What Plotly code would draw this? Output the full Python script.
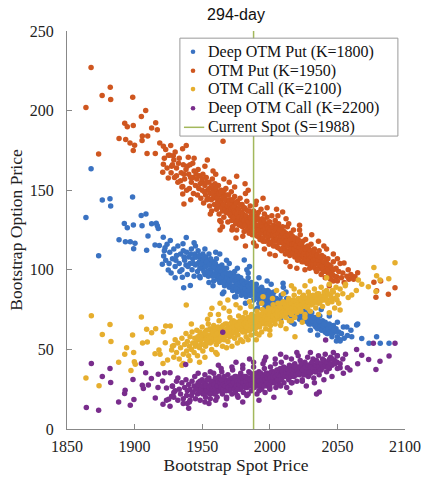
import plotly.graph_objects as go

TITLE = "294-day"
X_LABEL = "Bootstrap Spot Price"
Y_LABEL = "Bootstrap Option Price"
X_TICKS = [1850, 1900, 1950, 2000, 2050, 2100]
Y_TICKS = [0, 50, 100, 150, 200, 250]
SPOT = 1988
SERIES_NAMES = ["Deep OTM Put (K=1800)", "OTM Put (K=1950)", "OTM Call (K=2100)",
                "Deep OTM Call (K=2200)"]
SPOT_NAME = "Current Spot (S=1988)"

# ---- Deep OTM Put (K=1800) ----
BLUE_PTS = [
    (1864,132.9),(1873.4,108.8),(1876.1,143.8),(1881.8,144.6),(1882.3,140),(1898.5,145.7),(1867.8,163.5),
    (1888.5,118.8),(1893.2,117.6),(1892.4,129.1),(1894.6,126.4),(1896.8,117.6),(1899.1,128.1),(1899.3,113.2),
    (1900.3,116.7),(1904.9,134.1),(1908.4,135),(1905.5,127.6),(1908.9,112.3),(1909.9,121.2),(1912.6,128.9),
    (1916,129.3),(1916.8,127.6),(1917.5,126),(1915.1,115.5),(1921.2,120.5),(1918.3,115.3),(1922.5,113.8),
    (1926.4,118.4),(1920.5,103.5),(1924.9,99.9),(1921.5,108.6),(1935.3,95.3),(1936.3,88.8),(1941.2,90.1),
    (1938.2,120.3),(1935.8,116.3),(1981.1,106.2),(2009.8,91.5),(2068,56.9),(2073.4,53.8),(2079,57.9),
    (2081.7,53.8),(2088.2,53.8),(2064.2,65.3),(2065,66),(2060.6,57.9),(2057.4,58.7),(2054.4,64),(2052,55.2),
    (2049.3,55.2),(2045.3,62.2),(2041,60.8),(2035.4,59),
    (1922,112),(1923,106),(1924,116),(1925.5,104),(1926,111),(1927,98),(1928,107),(1929,113),(1930,102),
    (1931,109),(1932,115),(1933,104),(1934,110),(1935,100),(1936,112),(1937,106),(1938,103),(1938.5,111),
    (1939,97),(1940,108),(1941,104),(1942,113),(1942.5,100),(1943,107),(1944,96),(1944.5,110),(1945,103),
    (1946,108),(1946.5,99),(1947,112),(1948,105),(1948.5,95),(1949,107),(1950,101),(1950.5,110),(1951,104),
    (1952,97),(1952.5,108),(1953,102),(1954,106),(1954.5,96),(1955,110),(1956,100),(1956.5,104),(1957,98),
    (1958,105),(1958.5,93),(1959,101),(1960,97),(1960.5,107),(1961,95),(1962,102),(1962.5,99),(1963,92),
    (1964,97),(1964.5,103),(1965,94),(1966,99),(1966.5,90),(1967,96),(1968,101),(1968.5,92),(1969,95),
    (1970,89),(1970.5,98),(1971,93),(1972,96),(1972.5,87),(1973,94),(1974,99),(1974.5,90),(1975,92),
    (1976,86),(1976.5,96),(1977,91),(1978,88),(1978.5,95),(1979,84),(1980,90),(1980.5,93),(1981,87),
    (1982,92),(1982.5,83),(1983,89),(1984,95),(1984.5,86),(1985,90),(1986,84),(1986.5,92),(1987,87),
    (1988,81),(1988.5,89),(1989,86),(1990,91),(1990.5,83),(1991,88),(1992,79),(1992.5,86),(1993,84),
    (1994,89),(1994.5,80),(1995,86),(1996,82),(1996.5,77),(1997,85),(1998,81),(1998.5,87),(1999,78),
    (2000,83),(2000.5,80),(2001,84),(2002,77),(2002.5,81),(2003,86),(2004,79),(2004.5,75),(2005,82),
    (2006,77),(2006.5,80),(2007,74),(2008,79),(2008.5,84),(2009,76),(2010,80),(2010.5,73),(2011,78),
    (2012,75),(2012.5,82),(2013,77),(2014,73),(2015,79),(2016,71),(2017,76),(2018,74),(2019,78),(2020,72),
    (2021,75),(2022,69),(2023,77),(2024,73),(2025,70),(2026,74),(2027,68),(2028,72),(2029,66),(2030,71),
    (2031,73),(2032,67),(2033,70),(2034,64),(2035,69),(2036,66),(2037,71),(2038,65),(2039,68),(2040,62),
    (2041,67),(2042,64),(2043,60),(2044,66),(2045,62),(2046,58),(2047,65),(2048,61),(2049,63),(2050,58),
    (2051,61),(2052,56),(2053,60),(2055,57),
    (1930,95),(1945,115),(1955,92),(1963,110),(1970,104),(1975,83),(1983,100),(1990,75),(1998,93),
    (2005,70),(2010,89),(2018,66),(2025,82),(2030,62),(2038,75),(2044,71),(2050,67),(2057,64),(2060,62),
    (1985,102),(1965,85),(2000,73),
    (1930.5,106),(1933.5,99),(1936.5,108),(1939.5,102),(1941.5,110),(1943.5,104),
    (1945.25,108),(1946.75,104),(1947.75,109),(1948.25,101),(1949.25,104),(1950.75,106),(1951.25,99),
    (1951.75,108),(1953.25,105),(1953.75,99),(1955.25,103),(1955.75,98),(1956.25,107),(1957.25,101),
    (1957.75,96),(1958.75,102),(1959.25,97),(1959.75,104),(1960.75,99),(1961.25,94),(1961.75,100),
    (1962.25,96),(1963.25,101),(1963.75,95),(1964.25,99),(1965.25,92),(1965.75,97),(1966.25,101),
    (1967.25,93),(1967.75,98),(1968.25,95),(1969.25,91),(1969.75,97),(1970.25,93),(1971.25,97),
    (1971.75,90),(1972.25,94),(1973.25,89),(1973.75,96),(1974.25,93),(1975.25,88),(1975.75,94),
    (1976.25,91),(1977.25,95),(1977.75,87),(1978.25,92),(1979.25,89),(1979.75,93),(1980.25,86),
    (1981.25,91),(1981.75,88),(1982.25,85),(1983.25,92),(1983.75,87),(1984.25,90),(1985.25,84),
    (1985.75,88),(1986.25,91),(1987.25,85),(1987.75,89),(1988.25,86),(1989.25,83),(1989.75,89),
    (1990.25,85),(1991.25,82),(1991.75,87),(1992.25,84),(1993.25,88),(1993.75,81),(1994.25,85),
    (1995.25,82),(1995.75,87),(1996.25,84),(1997.25,80),(1997.75,84),(1998.25,78),(1999.25,83),
    (1999.75,86),(2000.25,79),(2001.25,81),(2001.75,76),(2002.25,84),(2003.25,80),(2003.75,77),
    (2004.25,82),(2005.25,78),(2005.75,75),(2006.25,81),(2007.25,78),(2007.75,81),(2008.25,75),
    (2009.25,79),(2010.25,77),(2011.25,74),(2012.25,78),(2013.25,72),(2014.25,76),(2015.25,74),
    (2016.25,77),(2017.25,72),(2018.25,76),(2019.25,71),(2020.25,75),(2021.25,72),(2022.25,74),
    (2023.25,69),(2024.25,71),(2025.25,73),(2026.25,68),(2027.25,71),(2028.25,67),(2029.25,70),
    (2030.25,66),(2031.25,68),(2032.25,70),(2033.25,65),(2034.25,67),(2035.25,63),(2036.25,68),
    (2037.25,64),(2038.25,62),(2039.25,65),(2040.25,66),(2041.25,62),(2042.25,60),(2043.25,63),
    (2044.25,61),(2045.25,64),(2046.25,60),(2047.25,62),
    (1944,117),(1952,113),(1960,111),(1968,106),(1976,101),(1984,98),(1992,95),(2001,91),(2012,86),
    (1948,96),(1958,90),(1966,86),(1974,83),(1982,79),(1991,76),(1999,73),(2008,69),(2016,67),
]

# ---- OTM Put (K=1950) ----
ORANGE_PTS = [
    (1867.8,227),(1864,202),(1876,209.5),(1882,214.7),(1882.3,207),(1898.6,208.4),(1892.7,192),(1894.6,189.8),
    (1899,190.6),(1905,196.3),(1908.2,200),(1888.5,182.4),(1893.4,181.8),(1896.6,179.7),(1900,178.2),
    (1899,175),(1905.5,181.2),(1905.7,184),(1909.7,184),(1912.6,189),(1915.6,192.3),(1916.8,188),
    (1918.6,179.7),(1921.3,177.6),(1923,175.5),(1926.7,178),(1909.2,173),(1915.3,173),(1928.6,171.7),
    (1935.5,176),(1938.2,178),(1939.7,170.7),(1953.8,169),(1965.4,180.7),(1873.4,172.8),(1921.3,166.3),
    (1920.8,161.2),(1924.9,157.6),(1927.4,165),(1935.6,152.4),(1935.6,147.6),(1936.5,141.3),(1941.5,144),
    (1963.2,125),(1965,127),(1982,115),(1975.5,158.7),(1981.7,154),(2009.5,136.3),(2065,98.2),(2077,92.2),
    (2078.5,82.8),(2079,86.9),(2087.7,84.6),(2092.6,88.8),(2082,93),(2061.3,95.7),(2058.5,94),(2054.9,104.2),
    (2063,95.7),(2049.5,95.7),(2047,93),
    (1928,166),(1929.5,158),(1931,164),(1932,155),(1933,170),(1934.5,161),(1935,152),(1936,166),(1937,157),
    (1938,163),(1938.5,150),(1940,160),(1940.5,151),(1941,166),(1942,155),(1943,158),(1943.5,148),(1944,162),
    (1945,153),(1946,157),(1946.5,147),(1947,163),(1947.5,151),(1948,159),(1949,145),(1949.5,155),(1950,150),
    (1950.5,160),(1951,142),(1952,153),(1952.5,147),(1953,158),(1953.5,144),(1954,150),(1955,155),(1955.5,140),
    (1956,148),(1956.5,152),(1957,137),(1957.5,157),(1958,145),(1958.5,150),(1959,141),(1959.5,154),(1960,146),
    (1960.5,138),(1961,149),(1961.5,143),(1962,153),(1962.5,135),(1963,147),(1963.5,141),(1964,150),(1964.5,144),
    (1965,137),(1965.5,148),(1966,133),(1966.5,146),(1967,140),(1967.5,151),(1968,136),(1968.5,143),(1969,130),
    (1969.5,147),(1970,139),(1970.5,144),(1971,134),(1971.5,149),(1972,137),(1972.5,127),(1973,142),(1973.5,136),
    (1974,146),(1974.5,131),(1975,139),(1975.5,125),(1976,143),(1976.5,134),(1977,138),(1977.5,128),(1978,145),
    (1978.5,132),(1979,136),(1979.5,141),(1980,130),(1980.5,139),(1981,124),(1981.5,134),(1982,138),(1982.5,129),
    (1983,143),(1983.5,133),(1984,126),(1984.5,137),(1985,131),(1985.5,140),(1986,128),(1986.5,135),(1987,122),
    (1987.5,133),(1988,137),(1988.5,127),(1989,131),(1989.5,141),(1990,124),(1990.5,134),(1991,128),(1991.5,136),
    (1992,121),(1992.5,131),(1993,126),(1993.5,138),(1994,124),(1994.5,132),(1995,118),(1995.5,128),(1996,135),
    (1996.5,122),(1997,129),(1997.5,125),(1998,133),(1998.5,119),(1999,127),(1999.5,116),(2000,130),(2000.5,122),
    (2001,126),(2001.5,134),(2002,118),(2002.5,124),(2003,128),(2003.5,120),(2004,131),(2004.5,115),(2005,123),
    (2005.5,127),(2006,119),(2006.5,129),(2007,122),(2007.5,113),(2008,126),(2008.5,117),(2009,121),(2009.5,127),
    (2010,114),(2010.5,124),(2011,118),(2011.5,110),(2012,123),(2012.5,116),(2013,127),(2013.5,119),(2014,112),
    (2014.5,121),(2015,116),(2015.5,123),(2016,110),(2016.5,118),(2017,114),(2017.5,125),(2018,117),(2018.5,108),
    (2019,120),(2019.5,113),(2020,116),(2020.5,106),(2021,119),(2021.5,111),(2022,114),(2022.5,122),(2023,108),
    (2023.5,116),(2024,112),(2024.5,118),(2025,105),(2025.5,114),(2026,109),(2026.5,119),(2027,111),(2027.5,104),
    (2028,115),(2028.5,108),(2029,113),(2029.5,101),(2030,110),(2030.5,116),(2031,106),(2031.5,112),(2032,102),
    (2032.5,109),(2033,113),(2033.5,105),(2034,108),(2034.5,99),(2035,110),(2035.5,104),(2036,107),(2036.5,112),
    (2037,101),(2037.5,106),(2038,97),(2038.5,109),(2039,104),(2039.5,99),(2040,108),(2040.5,102),(2041,95),
    (2041.5,105),(2042,101),(2043,107),(2043.5,97),(2044,103),(2045,94),(2046,100),(2047,105),(2048,96),
    (2049,101),(2050,93),(2051,99),(2052,104),(2053,95),(2054,98),(2055,92),(2057,96),
    (1925,172),(1930,174),(1944,170),(1952,165),(1960,160),(1963,131),(1970,155),(1975,120),(1984,150),
    (1990,115),(1995,145),(2000,110),(2005,138),(2012,132),(2015,102),(2022,128),(2026,100),(2031,122),
    (2036,118),(2042,113),(2047,110),(2050,107),(2044,90),(2040,115),(2058,100),(2060,97),(2062,94),
    (1922,170),(1924,164),(1926,172),(1927,161),(1929,169),(1931,159),(1932.5,167),(1934,156),(1936.5,160),
    (1939,165),(1941.5,158),(1943,167),(1945.5,160),(1948.5,154),(1950,157),(1951.5,149),(1953,155),(1954.5,145),
    (1955.25,151),(1956.75,144),(1957.75,153),(1958.25,148),(1959.75,146),(1960.25,151),(1961.25,145),
    (1961.75,140),(1962.25,148),(1963.25,143),(1963.75,149),(1964.25,139),(1965.25,145),(1965.75,141),
    (1966.25,150),(1966.75,138),(1967.25,144),(1967.75,136),(1968.25,147),(1968.75,140),(1969.25,137),
    (1969.75,143),(1970.25,135),(1970.75,141),(1971.25,138),(1971.75,131),(1972.25,144),(1972.75,139),
    (1973.25,133),(1973.75,140),(1974.25,136),(1974.75,129),(1975.25,142),(1975.75,135),(1976.25,131),
    (1976.75,138),(1977.25,133),(1977.75,141),(1978.25,129),(1978.75,136),(1979.25,132),(1979.75,127),
    (1980.25,135),(1980.75,131),(1981.25,139),(1981.75,128),(1982.25,134),(1982.75,125),(1983.25,131),
    (1983.75,137),(1984.25,130),(1984.75,123),(1985.25,133),(1985.75,127),(1986.25,132),(1986.75,125),
    (1987.25,130),(1987.75,136),(1988.25,129),(1988.75,122),(1989.25,127),(1989.75,133),(1990.25,128),
    (1990.75,121),(1991.25,132),(1991.75,125),(1992.25,128),(1992.75,119),(1993.25,123),(1993.75,130),
    (1994.25,127),(1994.75,120),(1995.25,125),(1995.75,131),(1996.25,126),(1996.75,118),(1997.25,123),
    (1997.75,128),(1998.25,121),(1998.75,126),(1999.25,123),(1999.75,130),(2000.25,125),(2000.75,117),
    (2001.25,121),(2001.75,127),(2002.25,122),(2002.75,115),(2003.25,124),(2003.75,118),(2004.25,122),
    (2004.75,126),(2005.25,119),(2005.75,114),(2006.25,123),(2006.75,117),(2007.25,125),(2007.75,119),
    (2008.25,121),(2008.75,112),(2009.25,118),(2009.75,123),(2010.25,117),(2010.75,120),(2011.25,113),
    (2011.75,121),(2012.25,118),(2012.75,111),(2013.25,115),(2013.75,122),(2014.25,117),(2014.75,109),
    (2015.25,119),(2015.75,113),(2016.25,116),(2016.75,121),(2017.25,111),(2017.75,116),(2018.25,113),
    (2018.75,119),(2019.25,109),(2019.75,115),(2020.25,112),(2020.75,118),(2021.25,107),(2021.75,114),
    (2022.25,110),(2022.75,116),(2023.25,112),(2023.75,105),(2024.25,109),(2024.75,114),(2025.25,110),
    (2025.75,106),(2026.25,113),(2026.75,107),(2027.25,109),(2027.75,114),(2028.25,104),(2028.75,110),
    (2029.25,107),(2029.75,112),(2030.25,104),(2030.75,108),(2031.25,110),(2031.75,103),(2032.25,106),
    (2032.75,111),(2033.25,101),(2033.75,107),(2034.25,104),(2034.75,109),(2035.25,100),(2035.75,106),
    (2036.25,103),(2037.25,108),(2038.25,102),(2039.25,100),(2040.25,105),(2041.25,99),(2042.25,104),
    (2043.25,100),(2044.25,97),(2045.25,102),(2046.25,97),(2047.25,100),
    (1958,162),(1966,157),(1974,152),(1982,148),(1990,143),(1998,139),(2006,134),(2014,129),(2022,125),
    (1956,135),(1964,130),(1972,125),(1980,121),(1988,117),(1996,113),(2004,109),(2012,105),(2020,101),
]

# ---- OTM Call (K=2100) ----
YELLOW_PTS = [
    (1868,71.2),(1876.1,59.4),(1881.8,65.7),(1882.5,55),(1864,32.1),(1873.7,27.1),(1898.5,59),(1905,70.3),
    (1894.1,51),(1892.7,47),(1899.3,48.1),(1888.2,42),(1897.3,36.8),(1899.8,42.2),(1900.5,40.6),(1905.9,54),
    (1908.9,62.6),(1909.4,54.6),(1912.6,60.5),(1915.6,63),(1918,49.7),(1915.1,47.2),(1921.2,61.1),(1923,64.7),
    (1926.4,64.7),(1922.7,54.2),(1918.8,47),(1921,41.2),(1924.4,43.3),(1927.4,49.6),(1928.9,52.5),(1938.2,77.9),
    (1936,41.2),(1941,43),(1957.2,75.8),(1963.2,79),(1969,81),(2077,101.4),(2092.6,104.5),(2088,94.3),
    (2079,96.2),(2081.5,93.6),(2078.5,86.3),(2072.9,89.4),(2068,90.9),(2065.5,93.6),(2064,87),(2060.6,84.2),
    (2058,82.6),(2055.8,90),(2052,74.8),(2049.7,81),(2018.6,57.9),
    (1928,52),(1929,45),(1930,56),(1931,48),(1932,54),(1933,44),(1934,51),(1935,57),(1936,47),(1937,53),
    (1938,60),(1938.5,49),(1939,55),(1940,46),(1940.5,52),(1941,58),(1942,50),(1942.5,61),(1943,54),(1944,48),
    (1944.5,57),(1945,52),(1946,62),(1946.5,46),(1947,56),(1948,51),(1948.5,59),(1949,53),(1950,64),(1950.5,49),
    (1951,57),(1952,61),(1952.5,52),(1953,58),(1954,55),(1954.5,66),(1955,59),(1956,54),(1956.5,62),(1957,50),
    (1958,58),(1958.5,65),(1959,56),(1960,61),(1960.5,53),(1961,63),(1962,58),(1962.5,68),(1963,60),(1964,56),
    (1964.5,64),(1965,52),(1966,62),(1966.5,58),(1967,66),(1968,60),(1968.5,63),(1969,55),(1970,62),(1970.5,70),
    (1971,59),(1972,65),(1972.5,61),(1973,68),(1974,57),(1974.5,64),(1975,62),(1976,67),(1976.5,59),(1977,71),
    (1978,64),(1978.5,56),(1979,66),(1980,61),(1980.5,69),(1981,63),(1982,73),(1982.5,58),(1983,67),(1984,62),
    (1984.5,70),(1985,65),(1986,59),(1986.5,72),(1987,68),(1988,63),(1988.5,71),(1989,66),(1990,60),(1990.5,74),
    (1991,67),(1992,71),(1992.5,64),(1993,69),(1994,61),(1994.5,75),(1995,70),(1996,66),(1996.5,73),(1997,63),
    (1998,71),(1998.5,68),(1999,76),(2000,70),(2000.5,65),(2001,72),(2002,68),(2002.5,78),(2003,71),(2004,66),
    (2004.5,75),(2005,69),(2006,79),(2006.5,73),(2007,70),(2008,76),(2008.5,67),(2009,74),(2010,80),(2010.5,72),
    (2011,75),(2012,70),(2012.5,78),(2013,73),(2014,82),(2014.5,68),(2015,76),(2016,72),(2016.5,80),(2017,74),
    (2018,84),(2018.5,70),(2019,77),(2020,73),(2020.5,81),(2021,75),(2022,86),(2022.5,79),(2023,74),(2024,80),
    (2024.5,77),(2025,84),(2026,72),(2026.5,82),(2027,79),(2028,76),(2028.5,86),(2029,81),(2030,74),(2030.5,83),
    (2031,78),(2032,84),(2032.5,80),(2033,88),(2034,76),(2034.5,82),(2035,85),(2036,79),(2037,83),(2038,89),
    (2039,77),(2040,84),(2041,81),(2042,87),(2043,79),(2044,91),(2045,84),(2046,80),(2047,86),(2048,82),
    (2049,89),(2050,84),(2052,88),(2054,85),(2056,91),
    (1935,40),(1942,66),(1948,42),(1956,72),(1961,47),(1966,76),(1972,52),(1975,78),(1980,55),(1985,80),
    (1990,56),(1995,83),(2000,59),(2005,87),(2012,63),(2016,90),(2024,67),(2030,93),(2036,72),(2042,95),
    (2048,76),(2051,79),(2044,73),
    (1945.25,54),(1946.75,58),(1947.75,52),(1948.25,61),(1949.25,56),(1950.25,59),(1951.25,53),(1951.75,60),
    (1952.75,56),(1953.25,62),(1953.75,54),(1955.25,57),(1955.75,63),(1956.75,58),(1957.25,55),(1957.75,61),
    (1958.75,57),(1959.25,63),(1959.75,59),(1960.25,56),(1961.25,60),(1961.75,64),(1962.25,55),(1963.25,63),
    (1963.75,58),(1964.25,61),(1965.25,65),(1965.75,59),(1966.25,56),(1967.25,62),(1967.75,59),(1968.25,66),
    (1969.25,61),(1969.75,64),(1970.25,58),(1971.25,63),(1971.75,67),(1972.25,60),(1973.25,64),(1973.75,61),
    (1974.25,67),(1975.25,60),(1975.75,65),(1976.25,62),(1977.25,66),(1977.75,63),(1978.25,68),(1979.25,62),
    (1979.75,65),(1980.25,70),(1981.25,66),(1981.75,61),(1982.25,67),(1983.25,64),(1983.75,70),(1984.25,66),
    (1985.25,62),(1985.75,68),(1986.25,65),(1987.25,71),(1987.75,64),(1988.25,68),(1989.25,63),(1989.75,70),
    (1990.25,67),(1991.25,72),(1991.75,65),(1992.25,69),(1993.25,66),(1993.75,72),(1994.25,68),(1995.25,73),
    (1995.75,67),(1996.25,70),(1997.25,74),(1997.75,69),(1998.25,66),(1999.25,72),(1999.75,69),(2000.25,74),
    (2001.25,68),(2001.75,75),(2002.25,71),(2003.25,74),(2003.75,69),(2004.25,72),(2005.25,76),(2005.75,71),
    (2006.25,74),(2007.25,77),(2007.75,72),(2008.25,79),(2009.25,71),(2009.75,76),(2010.25,74),(2011.25,78),
    (2011.75,73),(2012.25,76),(2013.25,80),(2013.75,75),(2014.25,78),(2015.25,73),(2015.75,79),(2016.25,76),
    (2017.25,81),(2017.75,77),(2018.25,74),(2019.25,80),(2019.75,76),(2020.25,78),(2021.25,82),(2021.75,77),
    (2022.25,75),(2023.25,81),(2023.75,78),(2024.25,83),(2025.25,79),(2026.25,77),(2027.25,82),(2028.25,80),
    (2029.25,84),(2030.25,78),(2031.25,81),(2032.25,79),(2033.25,83),(2034.25,80),(2035.25,82),(2036.25,85),
    (2037.25,80),(2038.25,83),(2039.25,81),(2040.25,86),(2041.25,83),(2042.25,81),(2043.25,85),(2045.25,82),
    (2046.25,87),
    (1952,45),(1960,48),(1968,51),(1976,54),(1984,56),(1992,59),(2000,62),(2008,65),(2016,68),(2026,70),
    (1954,69),(1962,72),(1970,74),(1978,76),(1986,77),(1994,79),(2002,82),(2010,85),(2018,88),(2026,90),
]

# ---- Deep OTM Call (K=2200) ----
PURPLE_PTS = [
    (1864.3,13.5),(1873.4,11.8),(1868,41.2),(1876.1,33),(1881.8,38),(1882.3,29.2),(1888.2,17),(1892.6,22.3),
    (1893,24.4),(1896.8,14.9),(1898.8,31.1),(1899.5,18.5),(1905,41.2),(1908.2,35.3),(1905.7,27.5),(1906.5,25.5),
    (1910.2,27.7),(1912.4,31.7),(1915.3,19.5),(1917.3,26),(1917.5,34.4),(1920.7,30.2),(1922.2,35.3),(1926.2,35.3),
    (1921,15.6),(1923.6,18.1),(1926.2,14.3),(1925.2,18.7),(1927.4,20.6),(1927.9,26.9),(1923.6,25.8),(1929,23),
    (1936,16),(1938.9,16),(1941,18),(1937.8,40.5),(1965.2,60.7),(2092.6,53.8),(2088.2,45.8),(2081.5,42.6),
    (2078.5,37.4),(2076.6,53.8),(2073.1,43.7),(2068,46.4),(2064.2,50),(2065,41),(2059.3,37),(2057.4,38.5),
    (2054.4,35),(2052,38.5),(2049.8,46),(2041.3,55.9),(2049.8,42),(2036.6,23.3),(2034.6,22),
    (1928,27),(1929,20),(1930,24),(1931,30),(1932,18),(1933,25),(1934,22),(1935,29),(1936,19),(1937,26),
    (1938,31),(1938.5,21),(1939,24),(1940,28),(1940.5,17),(1941,25),(1942,21),(1942.5,30),(1943,23),(1944,27),
    (1944.5,33),(1945,19),(1946,26),(1946.5,22),(1947,29),(1948,24),(1948.5,18),(1949,27),(1950,31),(1950.5,22),
    (1951,25),(1952,34),(1952.5,20),(1953,28),(1954,23),(1954.5,26),(1955,32),(1956,19),(1956.5,29),(1957,24),
    (1958,27),(1958.5,35),(1959,22),(1960,30),(1960.5,26),(1961,20),(1962,28),(1962.5,33),(1963,24),(1964,27),
    (1964.5,36),(1965,22),(1966,29),(1966.5,25),(1967,31),(1968,19),(1968.5,27),(1969,34),(1970,24),(1970.5,28),
    (1971,31),(1972,22),(1972.5,37),(1973,26),(1974,30),(1974.5,23),(1975,33),(1976,28),(1976.5,20),(1977,31),
    (1978,25),(1978.5,35),(1979,28),(1980,38),(1980.5,23),(1981,30),(1982,26),(1982.5,33),(1983,21),(1984,29),
    (1984.5,36),(1985,27),(1986,32),(1986.5,24),(1987,30),(1988,39),(1988.5,26),(1989,33),(1990,28),(1990.5,22),
    (1991,31),(1992,36),(1992.5,27),(1993,30),(1994,25),(1994.5,34),(1995,29),(1996,38),(1996.5,23),(1997,32),
    (1998,27),(1998.5,35),(1999,30),(2000,25),(2000.5,39),(2001,33),(2002,29),(2002.5,36),(2003,31),(2004,41),
    (2004.5,26),(2005,34),(2006,30),(2006.5,37),(2007,28),(2008,35),(2008.5,42),(2009,32),(2010,36),(2010.5,29),
    (2011,38),(2012,33),(2012.5,26),(2013,36),(2014,31),(2014.5,40),(2015,34),(2016,44),(2016.5,29),(2017,37),
    (2018,33),(2018.5,41),(2019,35),(2020,30),(2020.5,39),(2021,38),(2022,34),(2022.5,43),(2023,36),(2024,31),
    (2024.5,40),(2025,37),(2026,42),(2026.5,34),(2027,39),(2028,45),(2028.5,33),(2029,38),(2030,35),(2030.5,41),
    (2031,37),(2032,44),(2032.5,32),(2033,40),(2034,36),(2034.5,43),(2035,38),(2036,46),(2036.5,34),(2037,41),
    (2038,37),(2039,44),(2040,39),(2041,47),(2042,36),(2043,42),(2044,38),(2045,45),(2046,40),(2047,48),
    (2048,43),(2050,46),(2052,41),(2054,44),
    (1932,32),(1940,13),(1947,35),(1955,16),(1962,40),(1967,15),(1975,42),(1980,17),(1985,44),(1992,18),
    (1997,45),(2003,20),(2008,47),(2015,23),(2020,48),(2027,27),(2033,29),(2040,31),(2046,33),(2050,38),
    (2056,47),(1995,41),
    (1945.25,25),(1946.75,28),(1947.75,23),(1948.25,30),(1949.25,24),(1950.25,27),(1951.25,29),(1951.75,23),
    (1952.75,27),(1953.25,24),(1953.75,31),(1955.25,26),(1955.75,22),(1956.75,27),(1957.25,30),(1957.75,25),
    (1958.75,28),(1959.25,25),(1959.75,32),(1960.25,23),(1961.25,27),(1961.75,30),(1962.25,24),(1963.25,29),
    (1963.75,26),(1964.25,31),(1965.25,25),(1965.75,28),(1966.25,33),(1967.25,27),(1967.75,24),(1968.25,30),
    (1969.25,26),(1969.75,31),(1970.25,29),(1971.25,25),(1971.75,28),(1972.25,32),(1973.25,29),(1973.75,25),
    (1974.25,33),(1975.25,27),(1975.75,30),(1976.25,25),(1977.25,28),(1977.75,33),(1978.25,30),(1979.25,26),
    (1979.75,32),(1980.25,29),(1981.25,33),(1981.75,27),(1982.25,30),(1983.25,26),(1983.75,32),(1984.25,28),
    (1985.25,31),(1985.75,35),(1986.25,28),(1987.25,33),(1987.75,27),(1988.25,31),(1989.25,29),(1989.75,35),
    (1990.25,31),(1991.25,27),(1991.75,33),(1992.25,30),(1993.25,35),(1993.75,28),(1994.25,31),(1995.25,33),
    (1995.75,27),(1996.25,31),(1997.25,35),(1997.75,29),(1998.25,32),(1999.25,34),(1999.75,28),(2000.25,32),
    (2001.25,36),(2001.75,30),(2002.25,33),(2003.25,35),(2003.75,29),(2004.25,33),(2005.25,37),(2005.75,31),
    (2006.25,34),(2007.25,33),(2007.75,38),(2008.25,31),(2009.25,36),(2009.75,34),(2010.25,39),(2011.25,33),
    (2011.75,36),(2012.25,38),(2013.25,33),(2013.75,37),(2014.25,35),(2015.25,39),(2015.75,33),(2016.25,37),
    (2017.25,34),(2017.75,40),(2018.25,37),(2019.25,39),(2019.75,34),(2020.25,37),(2021.25,35),(2022.25,39),
    (2023.25,41),(2024.25,37),(2025.25,34),(2026.25,39),(2027.25,36),(2028.25,40),(2029.25,36),(2030.25,39),
    (2031.25,42),(2032.25,38),(2033.25,36),(2034.25,40),(2035.25,42),(2036.25,39),(2037.25,37),(2038.25,41),
    (2039.25,39),(2040.25,43),(2041.25,40),(2042.25,42),(2043.25,39),(2044.25,44),(2045.25,41),(2046.25,44),
    (2048.25,41),
    (1952,17),(1960,18),(1968,20),(1976,21),(1984,22),(1992,24),(2000,26),(2008,27),(2016,29),(2024,30),
    (1956,36),(1964,38),(1972,39),(1980,40),(1988,42),(1996,43),(2004,44),(2012,45),(2021,46),(2030,48),
]

COLORS = ["#3A72C2", "#CF561F", "#E6AE2E", "#792D8C"]
SPOT_COLOR = "#A3B85C"
LEGEND_Y = [0.948, 0.900, 0.854, 0.806, 0.758]   # paper fractions, one row per entry

fig = go.Figure()
for name, pts, col in zip(SERIES_NAMES, [BLUE_PTS, ORANGE_PTS, YELLOW_PTS, PURPLE_PTS], COLORS):
    xs = [p[0] for p in pts]
    ys = [p[1] for p in pts]
    fig.add_trace(go.Scatter(x=xs, y=ys, mode="markers", name=name, showlegend=False,
                             marker=dict(color=col, size=5.5, line=dict(width=0))))

fig.add_trace(go.Scatter(x=[SPOT, SPOT], y=[Y_TICKS[0], Y_TICKS[-1]], mode="lines",
                         name=SPOT_NAME, showlegend=False, line=dict(color=SPOT_COLOR, width=1.5)))

SERIF = "Liberation Serif, Times New Roman, serif"

# legend box drawn by hand (paper coordinates of the plot area)
shapes = [dict(type="rect", xref="paper", yref="paper", x0=0.334, x1=0.979, y0=0.736, y1=0.982,
               line=dict(color="#9a9a9a", width=1), fillcolor="white", layer="above")]
annotations = []
for name, col, ly in zip(SERIES_NAMES, COLORS, LEGEND_Y):
    shapes.append(dict(type="circle", xref="paper", yref="paper", x0=0.3728 - 0.0068, x1=0.3728 + 0.0068,
                       y0=ly - 0.0058, y1=ly + 0.0058, fillcolor=col, line=dict(width=0), layer="above"))
    annotations.append(dict(text=name, xref="paper", yref="paper", x=0.410, y=ly, xanchor="left",
                            yanchor="middle", showarrow=False,
                            font=dict(family=SERIF, size=16, color="#111")))
shapes.append(dict(type="line", xref="paper", yref="paper", x0=0.346, x1=0.406,
                   y0=LEGEND_Y[4], y1=LEGEND_Y[4], line=dict(color=SPOT_COLOR, width=1.5), layer="above"))
annotations.append(dict(text=SPOT_NAME, xref="paper", yref="paper", x=0.410, y=LEGEND_Y[4], xanchor="left",
                        yanchor="middle", showarrow=False, font=dict(family=SERIF, size=16, color="#111")))

fig.update_layout(
    width=421, height=480,
    margin=dict(l=67, r=16, t=31, b=51),
    paper_bgcolor="white", plot_bgcolor="white",
    title=dict(text=TITLE, xref="paper", x=0.5, xanchor="center", y=0.969, yanchor="middle",
               font=dict(family="Liberation Sans, Arial, sans-serif", size=16, color="#111")),
    showlegend=False, hovermode=False,
    shapes=shapes, annotations=annotations,
    font=dict(family=SERIF, color="#222"),
)
fig.update_xaxes(range=[X_TICKS[0], X_TICKS[-1]], tickvals=X_TICKS, ticks="inside", ticklen=5,
                 tickcolor="#888", showline=True, linecolor="#888", linewidth=1, showgrid=False,
                 zeroline=False, automargin=False, ticklabelstandoff=3,
                 tickfont=dict(family=SERIF, size=16, color="#222"),
                 title=dict(text=X_LABEL, font=dict(family=SERIF, size=17.5, color="#222"), standoff=2))
fig.update_yaxes(range=[Y_TICKS[0], Y_TICKS[-1]], tickvals=Y_TICKS, ticks="inside", ticklen=5,
                 tickcolor="#888", showline=True, linecolor="#888", linewidth=1, showgrid=False,
                 zeroline=False, automargin=False, ticklabelstandoff=9,
                 tickfont=dict(family=SERIF, size=16, color="#222"),
                 title=dict(text=Y_LABEL, font=dict(family=SERIF, size=17.5, color="#222"), standoff=2))

fig.write_html("out.html", config={"displayModeBar": False},
               post_script="document.body.style.margin='0';")
